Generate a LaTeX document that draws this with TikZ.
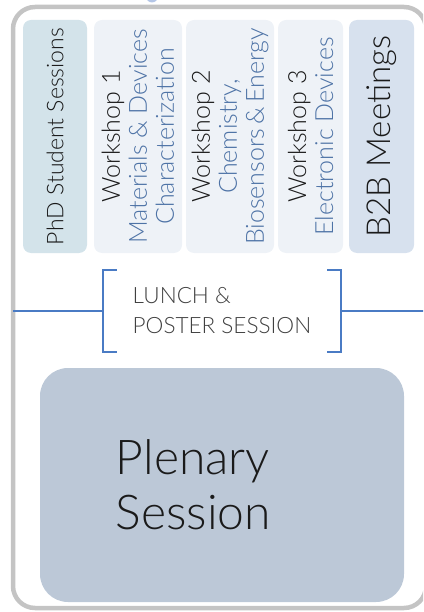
\documentclass[tikz,border=0pt]{standalone}
\usepackage{fontspec}
\IfFontExistsTF{SourceSans3-Light.otf}{\setmainfont{SourceSans3-Light.otf}}{%
 \IfFontExistsTF{Source Sans Pro Light}{\setmainfont{Source Sans Pro Light}}{%
  \IfFontExistsTF{Lato Light}{\setmainfont{Lato Light}}{%
   \IfFontExistsTF{Open Sans Light}{\setmainfont{Open Sans Light}}{\setmainfont{Lato}}}}}
\definecolor{framegray}{HTML}{C4C4C4}
\definecolor{dotblue}{HTML}{B4C6E7}
\definecolor{phdfill}{HTML}{D3E3EA}
\definecolor{wsfill}{HTML}{EEF2F7}
\definecolor{bbfill}{HTML}{D7E1EE}
\definecolor{plenfill}{HTML}{BCC8D7}
\definecolor{tblue}{HTML}{4E73A6}
\definecolor{txtblack}{HTML}{1A1A1A}
\definecolor{txtgray}{HTML}{404040}
\definecolor{lineblue}{HTML}{4A7BC4}
\begin{document}
\begin{tikzpicture}[x=1pt,y=1pt,
  col/.style={rectangle, rounded corners=8pt, rotate=90, inner sep=0pt, align=center,
    minimum width=233pt, font=\fontsize{23}{27}\selectfont, text=txtblack},
  wsfont/.style={font=\fontsize{25}{27}\selectfont},
  bracket/.style={draw=lineblue, line width=1.6pt},
  link/.style={draw=lineblue, line width=1.4pt}]
\useasboundingbox (0,0) rectangle (423,-612);
\clip (0,0) rectangle (423,-612);
\node[circle, fill=dotblue, minimum size=12pt, inner sep=0pt] (dot) at (152,3.5) {};
\draw[framegray, line width=4.5pt, rounded corners=22pt] (13,-7) rectangle (426,-608);
\coordinate (framewest) at (13,-307.5);
\coordinate (frameeast) at (426,-307.5);
% columns
\node[col, fill=phdfill, minimum height=64pt] (phd) at (55,-136.5) {PhD Student Sessions};
\node[col, wsfont, fill=wsfill, minimum height=88pt] (w1) at (138,-136.5)
  {Workshop 1\\\textcolor{tblue}{Materials \& Devices}\\\textcolor{tblue}{Characterization}};
\node[col, wsfont, fill=wsfill, minimum height=88pt] (w2) at (230,-136.5)
  {Workshop 2\\\textcolor{tblue}{Chemistry,}\\\textcolor{tblue}{Biosensors\,\&\,Energy}};
\node[col, wsfont, fill=wsfill, minimum height=65pt] (w3) at (310.5,-136.5)
  {Workshop 3\\\textcolor{tblue}{Electronic Devices}};
\node[col, fill=bbfill, minimum height=65pt, font=\fontsize{33}{40}\selectfont] (b2b) at (381.5,-136.5)
  {B2B Meetings};
% lunch
\node[minimum width=238pt, minimum height=82pt, inner sep=0pt, align=left,
  font=\fontsize{22.5}{30}\selectfont, text=txtgray] (lunch) at (222,-311)
  {LUNCH \&\\POSTER SESSION};
\draw[bracket] ([xshift=14pt]lunch.north west) -- (lunch.north west) -- (lunch.south west) -- ([xshift=14pt]lunch.south west);
\draw[bracket] ([xshift=-14pt]lunch.north east) -- (lunch.north east) -- (lunch.south east) -- ([xshift=-14pt]lunch.south east);
\draw[link] (lunch.west) -- (lunch.west -| framewest);
\draw[link] (lunch.east) -- (lunch.east -| frameeast);
% plenary
\node[fill=plenfill, rounded corners=28pt, minimum width=364pt, minimum height=234pt,
  inner sep=0pt] (plen) at (222,-485) {};
\node[align=left, inner sep=0pt, font=\fontsize{48}{55}\selectfont, text=txtblack] (plentext)
  at (193.5,-485) {Plenary\\Session};
\end{tikzpicture}
\end{document}
